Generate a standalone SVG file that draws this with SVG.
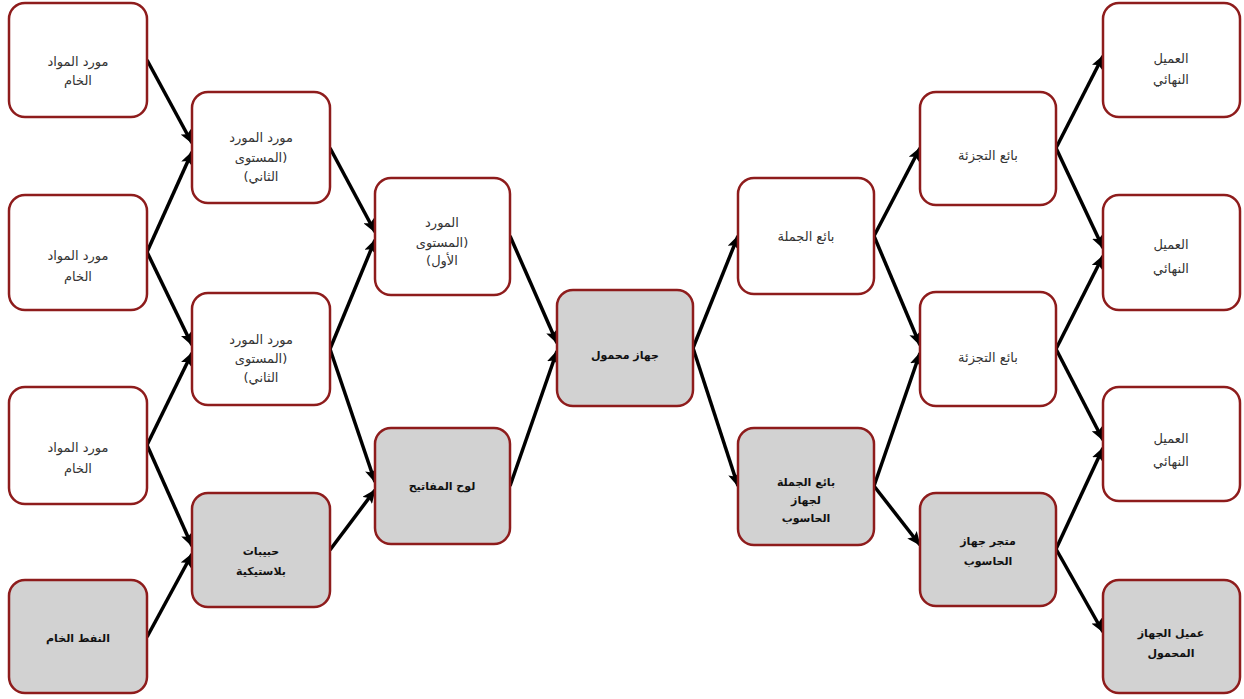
<svg xmlns="http://www.w3.org/2000/svg" width="1244" height="699" viewBox="0 0 1244 699">
<style>
.b{stroke:#8e1c1c;stroke-width:2.5;}
.w{fill:#ffffff;}
.g{fill:#d2d2d2;}
text{font-family:"DejaVu Sans","Noto Sans",sans-serif;font-size:13px;text-anchor:middle;fill:#333333;direction:rtl;unicode-bidi:embed;}
.t{font-weight:bold;fill:#111111;font-size:11px;}
.c line{stroke:#000000;stroke-width:3.5;marker-end:url(#ah);}
</style>
<defs>
<marker id="ah" markerUnits="userSpaceOnUse" markerWidth="14" markerHeight="12" refX="13" refY="6" orient="auto">
<path d="M0,0 L14,6 L0,12 L3,6 Z" fill="#000000"/>
</marker>
</defs>
<rect width="1244" height="699" fill="#ffffff"/>
<g class="c" id="connectors">
<line x1="147" y1="60" x2="192" y2="143"/>
<line x1="147" y1="252" x2="192" y2="152"/>
<line x1="147" y1="252" x2="192" y2="345"/>
<line x1="147" y1="445" x2="192" y2="353"/>
<line x1="147" y1="445" x2="192" y2="546"/>
<line x1="147" y1="637" x2="192" y2="554"/>
<line x1="330" y1="148" x2="375" y2="232"/>
<line x1="330" y1="349" x2="375" y2="240"/>
<line x1="330" y1="349" x2="375" y2="482"/>
<line x1="330" y1="550" x2="375" y2="490"/>
<line x1="510" y1="236" x2="557" y2="343"/>
<line x1="510" y1="486" x2="557" y2="351"/>
<line x1="693" y1="348" x2="738" y2="236"/>
<line x1="693" y1="348" x2="738" y2="486"/>
<line x1="874" y1="236" x2="920" y2="148"/>
<line x1="874" y1="236" x2="920" y2="345"/>
<line x1="874" y1="486" x2="920" y2="353"/>
<line x1="874" y1="486" x2="920" y2="545"/>
<line x1="1056" y1="148" x2="1103" y2="56"/>
<line x1="1056" y1="148" x2="1103" y2="248"/>
<line x1="1056" y1="349" x2="1103" y2="256"/>
<line x1="1056" y1="349" x2="1103" y2="440"/>
<line x1="1056" y1="549" x2="1103" y2="448"/>
<line x1="1056" y1="549" x2="1103" y2="632"/>
</g>
<g id="A1"><rect class="b w" x="9" y="3" width="138" height="114" rx="16"/><text x="78" y="66">مورد المواد</text><text x="78" y="85">الخام</text></g>
<g id="A2"><rect class="b w" x="9" y="195" width="138" height="115" rx="16"/><text x="78" y="260">مورد المواد</text><text x="78" y="281">الخام</text></g>
<g id="A3"><rect class="b w" x="9" y="387" width="138" height="117" rx="16"/><text x="78" y="452">مورد المواد</text><text x="78" y="473">الخام</text></g>
<g id="A4"><rect class="b g" x="9" y="580" width="138" height="113" rx="16"/><text class="t" x="78" y="642">النفط الخام</text></g>
<g id="B1"><rect class="b w" x="192" y="92" width="138" height="111" rx="16"/><text x="261" y="142">مورد المورد</text><text x="261" y="162">(المستوى</text><text x="261" y="181">الثاني)</text></g>
<g id="B2"><rect class="b w" x="192" y="293" width="138" height="112" rx="16"/><text x="261" y="344">مورد المورد</text><text x="261" y="363">(المستوى</text><text x="261" y="382">الثاني)</text></g>
<g id="B3"><rect class="b g" x="192" y="493" width="138" height="114" rx="16"/><text class="t" x="261" y="555">حبيبات</text><text class="t" x="261" y="575">بلاستيكية</text></g>
<g id="C1"><rect class="b w" x="375" y="178" width="135" height="117" rx="16"/><text x="442" y="227">المورد</text><text x="442" y="247">(المستوى</text><text x="442" y="265">الأول)</text></g>
<g id="C2"><rect class="b g" x="375" y="428" width="135" height="116" rx="16"/><text class="t" x="442" y="490">لوح المفاتيح</text></g>
<g id="D"><rect class="b g" x="557" y="290" width="136" height="116" rx="16"/><text class="t" x="625" y="359">جهاز محمول</text></g>
<g id="E1"><rect class="b w" x="738" y="178" width="136" height="116" rx="16"/><text x="806" y="241">بائع الجملة</text></g>
<g id="E2"><rect class="b g" x="738" y="428" width="136" height="117" rx="16"/><text class="t" x="806" y="486">بائع الجملة</text><text class="t" x="806" y="504">لجهاز</text><text class="t" x="806" y="522">الحاسوب</text></g>
<g id="F1"><rect class="b w" x="920" y="92" width="136" height="113" rx="16"/><text x="988" y="160">بائع التجزئة</text></g>
<g id="F2"><rect class="b w" x="920" y="292" width="136" height="114" rx="16"/><text x="988" y="362">بائع التجزئة</text></g>
<g id="F3"><rect class="b g" x="920" y="493" width="136" height="113" rx="16"/><text class="t" x="988" y="545">متجر جهاز</text><text class="t" x="988" y="565">الحاسوب</text></g>
<g id="G1"><rect class="b w" x="1103" y="3" width="137" height="114" rx="16"/><text x="1171" y="63">العميل</text><text x="1171" y="84">النهائي</text></g>
<g id="G2"><rect class="b w" x="1103" y="195" width="137" height="115" rx="16"/><text x="1171" y="249">العميل</text><text x="1171" y="273">النهائي</text></g>
<g id="G3"><rect class="b w" x="1103" y="387" width="137" height="114" rx="16"/><text x="1171" y="443">العميل</text><text x="1171" y="466">النهائي</text></g>
<g id="G4"><rect class="b g" x="1103" y="580" width="137" height="113" rx="16"/><text class="t" x="1171" y="637">عميل الجهاز</text><text class="t" x="1171" y="657">المحمول</text></g>
</svg>
